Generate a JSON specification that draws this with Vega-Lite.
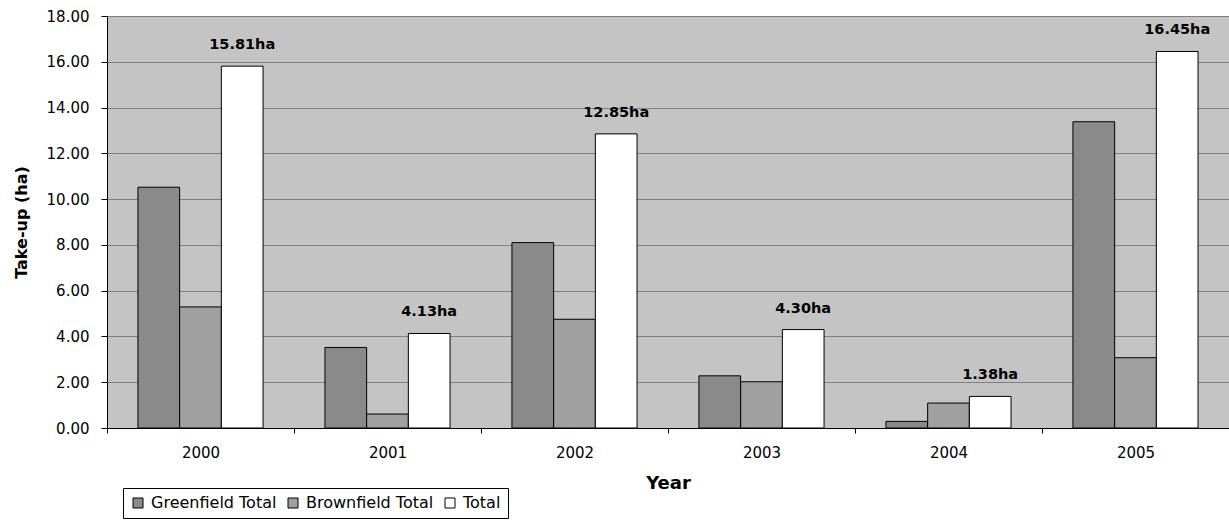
{
  "$schema": "https://vega.github.io/schema/vega-lite/v6.json",
  "width": 1122,
  "height": 412,
  "autosize": "none",
  "padding": {"left": 107, "top": 16, "right": 0, "bottom": 93},
  "background": "white",
  "config": {
    "view": {"fill": "#c4c4c4", "stroke": null},
    "font": "DejaVu Sans",
    "text": {"font": "DejaVu Sans"}
  },
  "data": {
    "values": [
      {"Year": "2000", "Series": "Greenfield Total", "Value": 10.52},
      {"Year": "2000", "Series": "Brownfield Total", "Value": 5.29},
      {"Year": "2000", "Series": "Total", "Value": 15.81},
      {"Year": "2001", "Series": "Greenfield Total", "Value": 3.52},
      {"Year": "2001", "Series": "Brownfield Total", "Value": 0.61},
      {"Year": "2001", "Series": "Total", "Value": 4.13},
      {"Year": "2002", "Series": "Greenfield Total", "Value": 8.10},
      {"Year": "2002", "Series": "Brownfield Total", "Value": 4.75},
      {"Year": "2002", "Series": "Total", "Value": 12.85},
      {"Year": "2003", "Series": "Greenfield Total", "Value": 2.28},
      {"Year": "2003", "Series": "Brownfield Total", "Value": 2.02},
      {"Year": "2003", "Series": "Total", "Value": 4.30},
      {"Year": "2004", "Series": "Greenfield Total", "Value": 0.29},
      {"Year": "2004", "Series": "Brownfield Total", "Value": 1.09},
      {"Year": "2004", "Series": "Total", "Value": 1.38},
      {"Year": "2005", "Series": "Greenfield Total", "Value": 13.38},
      {"Year": "2005", "Series": "Brownfield Total", "Value": 3.07},
      {"Year": "2005", "Series": "Total", "Value": 16.45}
    ]
  },
  "layer": [
    {
      "mark": {"type": "bar", "stroke": "black", "strokeWidth": 1},
      "encoding": {
        "x": {
          "field": "Year", "type": "nominal",
          "scale": {"paddingInner": 0, "paddingOuter": 0},
          "title": "Year",
          "axis": {
            "labelAngle": 0, "tickBand": "extent", "tickSize": 5, "tickColor": "black",
            "domainColor": "black", "labelFontSize": 15, "labelColor": "black",
            "labelPadding": 12, "titleFontSize": 18, "titleFontWeight": "bold",
            "titleColor": "black", "titlePadding": 14, "grid": false
          }
        },
        "xOffset": {
          "field": "Series", "type": "nominal",
          "scale": {"domain": ["Greenfield Total", "Brownfield Total", "Total"], "paddingInner": 0, "paddingOuter": 0.742}
        },
        "y": {
          "field": "Value", "type": "quantitative",
          "scale": {"domain": [0, 18]},
          "title": "Take-up (ha)",
          "axis": {
            "values": [0, 2, 4, 6, 8, 10, 12, 14, 16, 18], "format": ".2f",
            "tickSize": 6, "tickColor": "black", "domainColor": "black",
            "labelFontSize": 15, "labelColor": "black", "labelPadding": 12,
            "titleFontSize": 16, "titleFontWeight": "bold", "titleColor": "black",
            "titlePadding": 17, "grid": true, "gridColor": "#808080", "gridOpacity": 1
          }
        },
        "color": {
          "field": "Series", "type": "nominal",
          "scale": {"domain": ["Greenfield Total", "Brownfield Total", "Total"], "range": ["#8a8a8a", "#a0a0a0", "#ffffff"]},
          "legend": {
            "orient": "none", "legendX": 16, "legendY": 472, "direction": "horizontal",
            "title": null, "strokeColor": "black", "fillColor": "white", "padding": 7,
            "labelFontSize": 16, "labelColor": "black", "symbolType": "square", "symbolSize": 100,
            "symbolStrokeColor": "black", "symbolStrokeWidth": 1, "columnPadding": 8, "symbolOffset": 0,
            "labelOffset": 5
          }
        }
      }
    },
    {
      "transform": [
        {"filter": "datum.Series === 'Total'"},
        {"calculate": "format(datum.Value, '.2f') + 'ha'", "as": "Label"}
      ],
      "mark": {"type": "text", "fontWeight": "bold", "fontSize": 14.5, "dy": -21, "baseline": "middle", "color": "black"},
      "encoding": {
        "x": {"field": "Year", "type": "nominal"},
        "xOffset": {"field": "Series", "type": "nominal", "scale": {"domain": ["Greenfield Total", "Brownfield Total", "Total"]}},
        "y": {"field": "Value", "type": "quantitative"},
        "text": {"field": "Label"}
      }
    }
  ]
}
